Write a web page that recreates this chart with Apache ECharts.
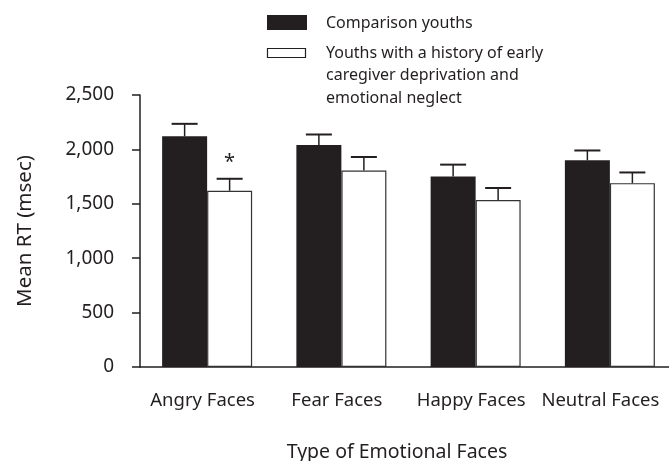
<!DOCTYPE html>
<html>
<head>
<meta charset="utf-8">
<script src="https://cdn.jsdelivr.net/npm/echarts@6/dist/echarts.min.js"></script>
<style>
html,body{margin:0;padding:0;background:#fff;}
#chart{width:669px;height:461px;}
</style>
</head>
<body>
<div id="chart"></div>
<script>
// ---- data ----
var categories = ['Angry Faces', 'Fear Faces', 'Happy Faces', 'Neutral Faces'];
var comparisonMeans = [2120, 2040, 1750, 1900];
var comparisonSE = [115, 97, 110, 90];
var deprivedMeans = [1620, 1805, 1535, 1690];
var deprivedSE = [110, 125, 110, 98];
var significance = ['*', '', '', ''];
var seriesNames = ['Comparison youths', 'Youths with a history of early\ncaregiver deprivation and\nemotional neglect'];
var yTicks = [0, 500, 1000, 1500, 2000, 2500];

var INK = '#231f20';
var FONT = '"Noto Sans", "Open Sans", sans-serif';
var BAR_W = 45;

function errorSeries(means, se, offsetSign, notes) {
  return {
    type: 'custom',
    z: 5,
    data: means.map(function (m, i) { return [i, m, m + se[i]]; }),
    renderItem: function (params, api) {
      var i = api.value(0);
      var base = api.coord([i, api.value(1)]);
      var top = api.coord([i, api.value(2)]);
      var x = base[0] + offsetSign * BAR_W / 2;
      var capHalf = 13;
      var children = [
        { type: 'line', shape: { x1: x, y1: base[1], x2: x, y2: top[1] }, style: { stroke: INK, lineWidth: 1.5 } },
        { type: 'line', shape: { x1: x - capHalf, y1: top[1], x2: x + capHalf, y2: top[1] }, style: { stroke: INK, lineWidth: 2 } }
      ];
      var note = notes ? notes[params.dataIndex] : '';
      if (note) {
        children.push({ type: 'text', style: { text: note, x: x, y: top[1] - 16, align: 'center', verticalAlign: 'middle', font: '20px ' + FONT, fill: INK } });
      }
      return { type: 'group', children: children };
    }
  };
}

var chart = echarts.init(document.getElementById('chart'), null, { renderer: 'canvas' });
chart.setOption({
  animation: false,
  backgroundColor: '#fff',
  textStyle: { fontFamily: FONT, color: INK },
  grid: { left: 140, width: 537, top: 95, height: 272, containLabel: false, outerBoundsMode: 'none' },
  xAxis: {
    type: 'category',
    data: categories.map(function (c, i) {
      return { value: c, textStyle: { padding: i === 3 ? [0, 19, 0, 0] : [0, 9, 0, 0] } };
    }),
    axisLine: { lineStyle: { color: INK, width: 1.5 } },
    axisTick: { show: false },
    axisLabel: { color: INK, fontSize: 18.5, fontFamily: FONT, margin: 24, interval: 0 },
    name: 'Type of Emotional Faces',
    nameLocation: 'middle',
    nameGap: 75,
    nameTextStyle: { color: INK, fontSize: 19.5, fontFamily: FONT, padding: [0, 23, 0, 0] }
  },
  yAxis: {
    type: 'value',
    min: 0, max: 2500, interval: 500,
    axisLine: { show: true, lineStyle: { color: INK, width: 1.5 } },
    axisTick: { show: true, length: 8, lineStyle: { color: INK, width: 1.5 } },
    splitLine: { show: false },
    axisLabel: {
      color: INK, fontSize: 19, fontFamily: FONT, margin: 26,
      formatter: function (v) { return v.toLocaleString('en-US'); }
    },
    name: 'Mean RT (msec)',
    nameLocation: 'middle',
    nameGap: 104,
    nameTextStyle: { color: INK, fontSize: 20.5, fontFamily: FONT }
  },
  series: [
    {
      name: seriesNames[0], type: 'bar', data: comparisonMeans, barWidth: BAR_W, barGap: '0%',
      itemStyle: { color: INK, borderColor: INK, borderWidth: 0 }
    },
    {
      name: seriesNames[1], type: 'bar', data: deprivedMeans, barWidth: BAR_W, barGap: '0%',
      itemStyle: { color: '#ffffff', borderColor: '#333', borderWidth: 1.2 }
    },
    errorSeries(comparisonMeans, comparisonSE, -1, null),
    errorSeries(deprivedMeans, deprivedSE, 1, significance)
  ],
  graphic: [
    { type: 'rect', shape: { x: 267, y: 15, width: 40, height: 15 }, style: { fill: INK } },
    { type: 'text', style: { text: seriesNames[0], x: 326, y: 23, verticalAlign: 'middle', font: '16px ' + FONT, fill: INK } },
    { type: 'rect', shape: { x: 267.5, y: 48.5, width: 38, height: 9 }, style: { fill: '#fff', stroke: INK, lineWidth: 1.2 } },
    { type: 'text', style: { text: seriesNames[1], x: 326, y: 42, verticalAlign: 'top', lineHeight: 22.5, font: '16px ' + FONT, fill: INK } }
  ]
});
</script>
</body>
</html>
